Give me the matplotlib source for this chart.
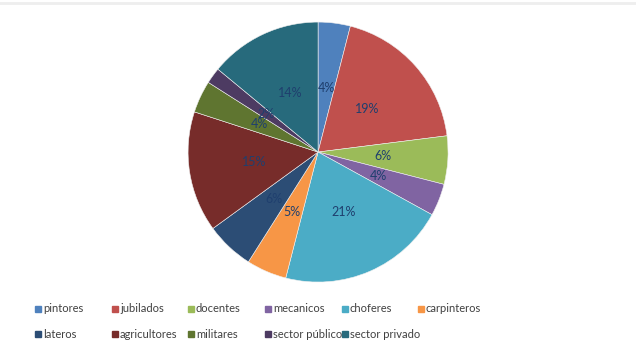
import matplotlib.pyplot as plt
from matplotlib.patches import Rectangle

categorias = ['pintores', 'jubilados', 'docentes', 'mecanicos', 'choferes', 'carpinteros',
              'lateros', 'agricultores', 'militares', 'sector público', 'sector privado']
porcentajes = [4, 19, 6, 4, 21, 5, 6, 15, 4, 2, 14]
colores = ['#4F81BD', '#C0504D', '#9BBB59', '#8064A2', '#4BACC6', '#F79646',
           '#2C4D75', '#772C2A', '#5F7530', '#4D3B62', '#276A7C']

plt.rcParams['font.family'] = ['Lato', 'DejaVu Sans']

fig = plt.figure(figsize=(6.36, 3.53), dpi=100)
fig.patch.set_facecolor('white')

# linea gris tenue arriba
fig.add_artist(plt.Line2D([0, 1], [0.992, 0.992], color='#EEEEEE', lw=2))

ax = fig.add_axes([0.2956, 0.201, 0.409, 0.7365])
ax.pie(porcentajes, colors=colores, startangle=90, counterclock=False,
       autopct='%1.0f%%', pctdistance=0.5,
       textprops={'color': '#1F3F6E', 'fontsize': 9},
       wedgeprops={'edgecolor': '#F0F0F0', 'linewidth': 0.4})
ax.set_xlim(-1, 1)
ax.set_ylim(-1, 1)
ax.set_aspect('equal')

# leyenda manual (columnas fijas como en Excel)
col_x = [35, 112, 188, 265, 342, 418]
fila_y = [309, 334]
for i, (cat, col) in enumerate(zip(categorias, colores)):
    fila, columna = divmod(i, 6)
    x = col_x[columna] / 636
    y = 1 - fila_y[fila] / 353
    fig.add_artist(Rectangle((x, y - 3 / 353), 6 / 636, 6 / 353,
                             transform=fig.transFigure, color=col))
    fig.text(x + 8 / 636, y, cat, fontsize=8, color='#404040', va='center', ha='left')

fig.savefig('out.png', dpi=100, facecolor='white')
